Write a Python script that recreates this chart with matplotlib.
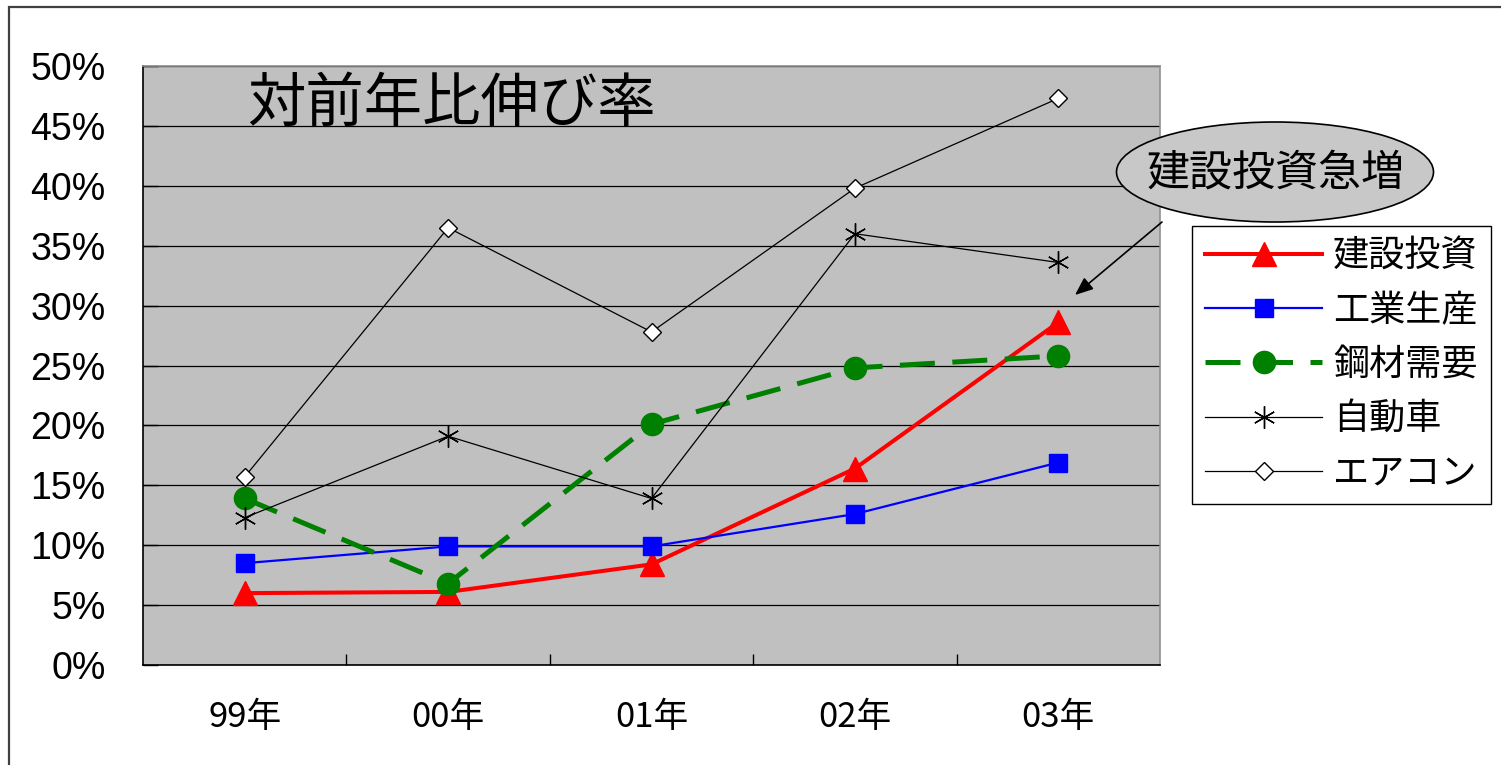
import matplotlib.pyplot as plt
from matplotlib.patches import Ellipse, Rectangle
from matplotlib.ticker import FixedLocator, FuncFormatter

jp = ["Noto Sans CJK JP", "DejaVu Sans"]
num = ["Liberation Sans Narrow", "Liberation Sans", "DejaVu Sans"]
plt.rcParams["font.family"] = jp

years = ["99年", "00年", "01年", "02年", "03年"]
kensetsu = [6.0, 6.1, 8.4, 16.4, 28.6]
kogyo = [8.5, 9.9, 9.9, 12.6, 16.9]
kozai = [13.9, 6.8, 20.1, 24.8, 25.8]
jidosha = [12.3, 19.1, 13.9, 36.0, 33.6]
aircon = [15.7, 36.5, 27.8, 39.8, 47.3]

x = [i + 0.5 for i in range(len(years))]

fig = plt.figure(figsize=(15.01, 7.65), dpi=100)
fig.patches.append(Rectangle((9 / 1501, -0.05), 1.1, (765 - 7) / 765 + 0.05,
                             transform=fig.transFigure, fill=False,
                             edgecolor="#404040", linewidth=1.6, zorder=0))

ax = fig.add_axes([143 / 1501, 100 / 765, 1017 / 1501, 599 / 765])
ax.set_facecolor("#c0c0c0")

ax.plot(x, kensetsu, color="red", lw=2.9, marker="^", ms=17, label="建設投資", zorder=3)
ax.plot(x, kogyo, color="blue", lw=1.6, marker="s", ms=13, label="工業生産", zorder=3)
ax.plot(x, kozai, color="green", lw=3.6, marker="o", ms=16, dashes=(7, 3.5),
        label="鋼材需要", zorder=4)
ax.plot(x, jidosha, color="black", lw=0.9, marker=(6, 2, 0), ms=16, mew=1.0,
        label="自動車", zorder=5)
ax.plot(x, aircon, color="black", lw=0.9, marker="D", ms=9, mfc="white", mew=1.0,
        label="エアコン", zorder=5)

ax.set_xlim(0, 5)
ax.set_ylim(0, 50)
ax.set_yticks(range(0, 51, 5))
ax.yaxis.set_major_formatter(FuncFormatter(lambda v, p: f"{v:.0f}%"))
ax.grid(axis="y", color="black", lw=0.9)
ax.set_axisbelow(True)
ax.tick_params(axis="y", direction="in", length=11, width=1, pad=27)
for t in ax.get_yticklabels():
    t.set_fontfamily(num)
    t.set_fontsize(27)

ax.set_xticks(x)
ax.set_xticklabels(years, fontsize=25)
ax.xaxis.set_minor_locator(FixedLocator([1, 2, 3, 4]))
ax.tick_params(axis="x", which="major", length=0, pad=25)
ax.tick_params(axis="x", which="minor", direction="in", length=8, width=1)

for s in ["top", "right"]:
    ax.spines[s].set_color("#909090")
    ax.spines[s].set_linewidth(1.2)
for s in ["left", "bottom"]:
    ax.spines[s].set_color("black")
    ax.spines[s].set_linewidth(1.2)

ax.text(0.102, 0.935, "対前年比伸び率", transform=ax.transAxes, fontsize=42,
        ha="left", va="center")

fig.patches.append(Ellipse((1275 / 1501, (765 - 172) / 765), 317 / 1501, 100 / 765,
                           transform=fig.transFigure, facecolor="#c8c8c8",
                           edgecolor="black", linewidth=1.2))
fig.text(1276 / 1501, (765 - 174) / 765, "建設投資急増", fontsize=31,
         ha="center", va="center")
ax.annotate("", xy=(1075 / 1501, (765 - 295) / 765), xycoords="figure fraction",
            xytext=(1162 / 1501, (765 - 222) / 765), textcoords="figure fraction",
            arrowprops=dict(arrowstyle="-|>,head_length=1.1,head_width=0.45",
                            color="black", lw=1.2, shrinkA=0, shrinkB=0),
            annotation_clip=False)

leg = fig.legend(loc="upper left", bbox_to_anchor=(1192 / 1501, (765 - 226) / 765),
                 fontsize=26, frameon=True, fancybox=False, edgecolor="black",
                 framealpha=1, borderpad=0.36, labelspacing=0.5,
                 handlelength=3.25, handletextpad=0.3, borderaxespad=0, numpoints=1)
leg.get_frame().set_linewidth(1.0)

fig.savefig("out.png", dpi=100)
